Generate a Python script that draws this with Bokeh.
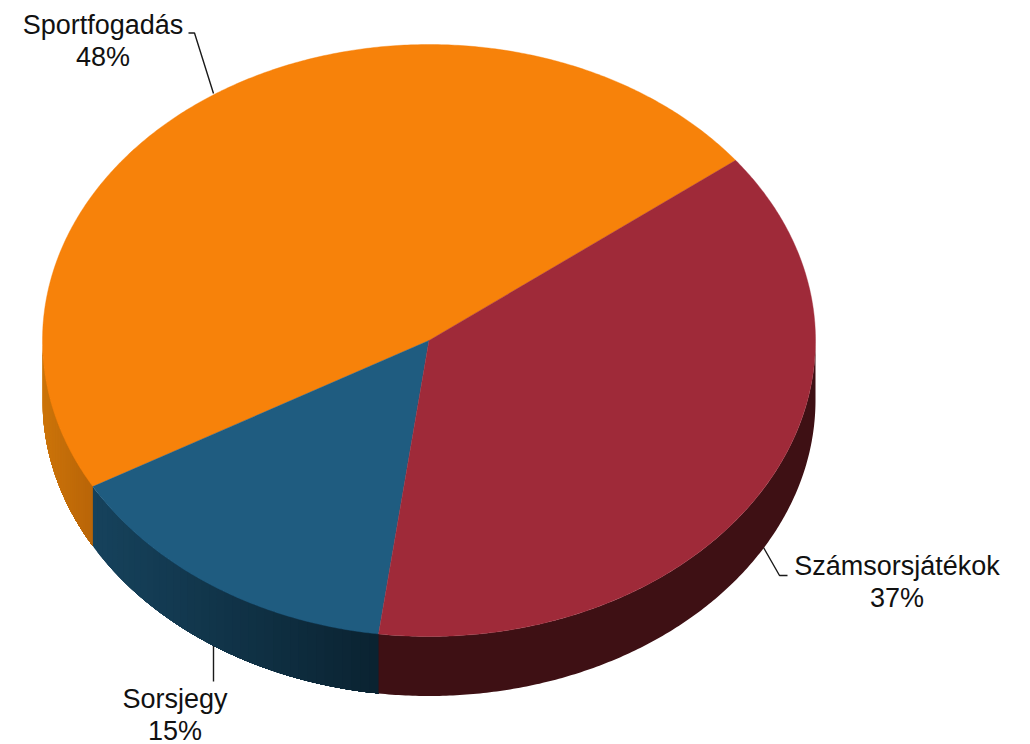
import numpy as np
from bokeh.plotting import figure
from bokeh.embed import file_html
from bokeh.resources import INLINE
from bokeh.core.properties import value

# --- data ---
categories = ["Sportfogadás", "Sorsjegy", "Számsorsjátékok"]
shares = [47.8, 14.7, 37.5]
percent_labels = ["48%", "15%", "37%"]

# --- styles and layout ---
top_colors = ["#F7820A", "#1F5C80", "#9F2A39"]
side_left = ["#CC7409", "#16425C", "#3E1014"]
side_right = ["#B86408", "#0A2230", "#3E1014"]
CX, CY, RX, RY, DEPTH = 428.5, 340.0, 386.5, 296.0, 59.5
START_DEG = 37.5
label_x = [102.5, 174.5, 896.5]
label_y = [24.0, 698.5, 565.5]
line_gap = 32.0
leader_x = [[188, 194, 213], [213, 213], [763, 779, 787]]
leader_y = [[32.5, 32.5, 93], [645, 681], [547, 575, 575]]
FONT = value("Liberation Sans")


def rim(a0, a1, n=None):
    n = n or max(2, int(abs(a1 - a0) * 2))
    t = np.radians(np.linspace(a0, a1, n))
    return CX + RX * np.cos(t), CY - RY * np.sin(t)


def hex_rgb(c):
    return np.array([int(c[i:i + 2], 16) for i in (1, 3, 5)], dtype=float)


p = figure(width=1030, height=744, x_range=(0, 1030), y_range=(744, 0),
           output_backend="svg", toolbar_location=None, min_border=0)
p.xaxis.visible = False
p.yaxis.visible = False
p.grid.visible = False
p.outline_line_color = None
p.background_fill_color = "white"
p.border_fill_color = "white"

# leaders under the pie
for lx, ly in zip(leader_x, leader_y):
    p.line(lx, ly, line_color="#1a1a1a", line_width=1.4)

# slice angles from the shares
edges = START_DEG + np.concatenate([[0], np.cumsum(shares)]) * 3.6

# side wall: only the part facing the viewer (180..360 degrees)
for i in range(len(shares)):
    a0, a1 = max(edges[i], 180.0), min(edges[i + 1], 360.0)
    if a1 <= a0:
        continue
    xa, _ = rim(a0, a0, 2)
    xb, _ = rim(a1, a1, 2)
    cl, cr = hex_rgb(side_left[i]), hex_rgb(side_right[i])
    # whole wall in its left colour, then overlapping bands painted over it
    x, y = rim(a0, a1)
    p.patch(np.r_[x, x[::-1]], np.r_[y, (y + DEPTH)[::-1]], fill_color=side_left[i], line_color=None)
    if side_left[i] == side_right[i]:
        continue
    steps = np.linspace(a0, a1, 40)
    for s0 in steps[1:-1]:
        x, y = rim(s0, a1)
        f = (x[0] - xa[0]) / (xb[0] - xa[0])
        r, g, b = (cl + (cr - cl) * f).round().astype(int)
        p.patch(np.r_[x, x[::-1]], np.r_[y, (y + DEPTH)[::-1]],
                fill_color=f"#{r:02x}{g:02x}{b:02x}", line_color=None)

# top face
for i in range(len(shares)):
    x, y = rim(edges[i], edges[i + 1])
    p.patch(np.r_[CX, x], np.r_[CY, y], fill_color=top_colors[i],
            line_color=top_colors[i], line_width=0.4)

# labels
for name, pct, lx, ly in zip(categories, percent_labels, label_x, label_y):
    p.text([lx, lx], [ly, ly + line_gap], text=[name, pct], text_font=FONT,
           text_font_size="27px", text_color="#111111",
           text_align="center", text_baseline="alphabetic")

open("out.html", "w").write(file_html(p, INLINE))
